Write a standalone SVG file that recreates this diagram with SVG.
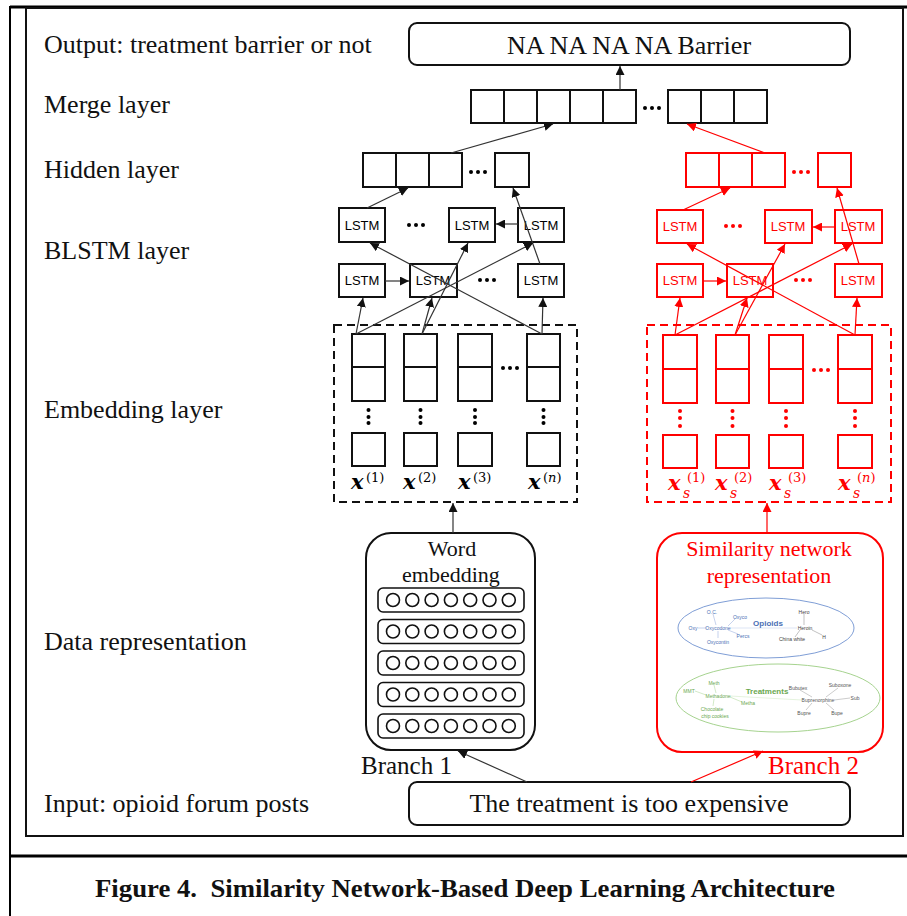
<svg xmlns="http://www.w3.org/2000/svg" width="907" height="916" viewBox="0 0 907 916">
<style>
.lbl{font-family:"Liberation Serif","Times New Roman",serif;font-size:26px;fill:#111}
.ctr{text-anchor:middle}
.red{fill:#f00}
.bx{fill:#fff;stroke:#111;stroke-width:2}
.rbx{fill:#fff;stroke:#f00;stroke-width:2}
.lstm{font-family:"Liberation Sans",Arial,sans-serif;font-size:13px;text-anchor:middle}
.ln{stroke:#333;stroke-width:1.2;fill:none}
.rln{stroke:#f00;stroke-width:1.2;fill:none}
.dash{fill:none;stroke:#111;stroke-width:2;stroke-dasharray:8 5}
.rdash{fill:none;stroke:#f00;stroke-width:2;stroke-dasharray:8 5}
.mx{font-family:"DejaVu Serif","Liberation Serif",serif;font-size:21px;font-weight:bold;font-style:italic}
.sup{font-family:"DejaVu Serif","Liberation Serif",serif;font-size:13px}
.sub{font-family:"DejaVu Serif","Liberation Serif",serif;font-size:14px;font-style:italic}
.t5{font-family:"Liberation Sans",Arial,sans-serif;font-size:5px;text-anchor:middle}
.gl{stroke-width:0.6;fill:none}
</style>
<defs>
<marker id="ab" viewBox="0 0 10 10" refX="10" refY="5" markerWidth="9" markerHeight="9" markerUnits="userSpaceOnUse" orient="auto"><path d="M0,0 L10,5 L0,10 z" fill="#111"/></marker>
<marker id="ar" viewBox="0 0 10 10" refX="10" refY="5" markerWidth="9" markerHeight="9" markerUnits="userSpaceOnUse" orient="auto"><path d="M0,0 L10,5 L0,10 z" fill="#f00"/></marker>
</defs>
<rect width="907" height="916" fill="#fff"/>
<g id="frame">
<line x1="10" y1="7" x2="907" y2="7" stroke="#000" stroke-width="3"/>
<line x1="10" y1="6" x2="10" y2="916" stroke="#000" stroke-width="2"/>
<rect x="26" y="8" width="877" height="828" fill="none" stroke="#111" stroke-width="2"/>
<line x1="10" y1="856" x2="907" y2="856" stroke="#000" stroke-width="3"/>
<text class="lbl" x="95" y="897" textLength="740" lengthAdjust="spacingAndGlyphs" style="font-weight:bold;font-size:26px" xml:space="preserve">Figure 4.  Similarity Network-Based Deep Learning Architecture</text>
</g>
<g id="labels">
<text class="lbl" x="44" y="53">Output: treatment barrier or not</text>
<text class="lbl" x="44" y="113">Merge layer</text>
<text class="lbl" x="44" y="178">Hidden layer</text>
<text class="lbl" x="44" y="259">BLSTM layer</text>
<text class="lbl" x="44" y="418">Embedding layer</text>
<text class="lbl" x="44" y="650">Data representation</text>
<text class="lbl" x="44" y="812">Input: opioid forum posts</text>
</g>
<g id="output">
<rect x="409" y="23" width="441" height="42" rx="8" class="bx"/>
<text class="lbl ctr" x="629" y="54">NA NA NA NA Barrier</text>
</g>
<g id="merge">
<rect x="471" y="90" width="33" height="33" class="bx"/>
<rect x="504" y="90" width="33" height="33" class="bx"/>
<rect x="537" y="90" width="33" height="33" class="bx"/>
<rect x="570" y="90" width="33" height="33" class="bx"/>
<rect x="603" y="90" width="33" height="33" class="bx"/>
<circle cx="645" cy="108" r="2"/><circle cx="652" cy="108" r="2"/><circle cx="659" cy="108" r="2"/>
<rect x="668" y="90" width="33" height="33" class="bx"/>
<rect x="701" y="90" width="33" height="33" class="bx"/>
<rect x="734" y="90" width="33" height="33" class="bx"/>
</g>
<g id="hidden-left">
<rect x="363" y="153" width="33" height="34" class="bx"/>
<rect x="396" y="153" width="33" height="34" class="bx"/>
<rect x="429" y="153" width="33" height="34" class="bx"/>
<circle cx="471" cy="172" r="2"/><circle cx="478" cy="172" r="2"/><circle cx="485" cy="172" r="2"/>
<rect x="495" y="153" width="34" height="34" class="bx"/>
</g>
<g id="hidden-right">
<rect x="686" y="153" width="33" height="34" class="rbx"/>
<rect x="719" y="153" width="33" height="34" class="rbx"/>
<rect x="752" y="153" width="33" height="34" class="rbx"/>
<g fill="#f00"><circle cx="794" cy="172" r="2"/><circle cx="801" cy="172" r="2"/><circle cx="808" cy="172" r="2"/></g>
<rect x="818" y="153" width="33" height="34" class="rbx"/>
</g>
<g id="blstm-left">
<rect x="339" y="208" width="46" height="34" class="bx"/><text class="lstm" x="362" y="230">LSTM</text>
<circle cx="409" cy="225" r="2"/><circle cx="416" cy="225" r="2"/><circle cx="423" cy="225" r="2"/>
<rect x="449" y="208" width="46" height="34" class="bx"/><text class="lstm" x="472" y="230">LSTM</text>
<rect x="518" y="208" width="46" height="34" class="bx"/><text class="lstm" x="541" y="230">LSTM</text>
<rect x="339" y="264" width="46" height="33" class="bx"/><text class="lstm" x="362" y="285">LSTM</text>
<rect x="410" y="264" width="47" height="33" class="bx"/><text class="lstm" x="433" y="285">LSTM</text>
<circle cx="480" cy="280" r="2"/><circle cx="487" cy="280" r="2"/><circle cx="494" cy="280" r="2"/>
<rect x="518" y="264" width="46" height="33" class="bx"/><text class="lstm" x="541" y="285">LSTM</text>
</g>
<g id="blstm-right">
<rect x="657" y="210" width="46" height="33" class="rbx"/><text class="lstm red" x="680" y="231">LSTM</text>
<g fill="#f00"><circle cx="726" cy="226" r="2"/><circle cx="733" cy="226" r="2"/><circle cx="740" cy="226" r="2"/></g>
<rect x="765" y="210" width="47" height="33" class="rbx"/><text class="lstm red" x="788" y="231">LSTM</text>
<rect x="835" y="210" width="47" height="33" class="rbx"/><text class="lstm red" x="858" y="231">LSTM</text>
<rect x="657" y="264" width="46" height="33" class="rbx"/><text class="lstm red" x="680" y="285">LSTM</text>
<rect x="727" y="264" width="46" height="33" class="rbx"/><text class="lstm red" x="750" y="285">LSTM</text>
<g fill="#f00"><circle cx="796" cy="280" r="2"/><circle cx="803" cy="280" r="2"/><circle cx="810" cy="280" r="2"/></g>
<rect x="835" y="264" width="47" height="33" class="rbx"/><text class="lstm red" x="858" y="285">LSTM</text>
</g>
<g id="embedding-left">
<rect x="334" y="325" width="243" height="177" class="dash"/>
<rect x="352" y="334" width="33" height="33" class="bx"/><rect x="352" y="367" width="33" height="34" class="bx"/>
<rect x="404" y="334" width="33" height="33" class="bx"/><rect x="404" y="367" width="33" height="34" class="bx"/>
<rect x="458" y="334" width="34" height="33" class="bx"/><rect x="458" y="367" width="34" height="34" class="bx"/>
<rect x="527" y="334" width="33" height="33" class="bx"/><rect x="527" y="367" width="33" height="34" class="bx"/>
<circle cx="503" cy="368" r="2"/><circle cx="510" cy="368" r="2"/><circle cx="517" cy="368" r="2"/>
<g><circle cx="368.5" cy="410" r="2"/><circle cx="368.5" cy="417" r="2"/><circle cx="368.5" cy="423" r="2"/>
<circle cx="420.5" cy="410" r="2"/><circle cx="420.5" cy="417" r="2"/><circle cx="420.5" cy="423" r="2"/>
<circle cx="475" cy="410" r="2"/><circle cx="475" cy="417" r="2"/><circle cx="475" cy="423" r="2"/>
<circle cx="543.5" cy="410" r="2"/><circle cx="543.5" cy="417" r="2"/><circle cx="543.5" cy="423" r="2"/></g>
<rect x="352" y="433" width="33" height="33" class="bx"/>
<rect x="404" y="433" width="33" height="33" class="bx"/>
<rect x="458" y="433" width="34" height="33" class="bx"/>
<rect x="527" y="433" width="33" height="33" class="bx"/>
<text class="mx" x="351" y="489">x</text><text class="sup" x="366" y="482">(1)</text>
<text class="mx" x="403" y="489">x</text><text class="sup" x="418" y="482">(2)</text>
<text class="mx" x="458" y="489">x</text><text class="sup" x="473" y="482">(3)</text>
<text class="mx" x="528" y="489">x</text><text class="sup" x="543" y="482">(<tspan font-style="italic">n</tspan>)</text>
</g>
<g id="embedding-right">
<rect x="647" y="325" width="244" height="177" class="rdash"/>
<rect x="663" y="335" width="34" height="34" class="rbx"/><rect x="663" y="369" width="34" height="34" class="rbx"/>
<rect x="716" y="335" width="33" height="34" class="rbx"/><rect x="716" y="369" width="33" height="34" class="rbx"/>
<rect x="769" y="335" width="34" height="34" class="rbx"/><rect x="769" y="369" width="34" height="34" class="rbx"/>
<rect x="838" y="335" width="34" height="34" class="rbx"/><rect x="838" y="369" width="34" height="34" class="rbx"/>
<g fill="#f00"><circle cx="814" cy="370" r="2"/><circle cx="821" cy="370" r="2"/><circle cx="828" cy="370" r="2"/>
<circle cx="680" cy="411" r="2"/><circle cx="680" cy="418" r="2"/><circle cx="680" cy="426" r="2"/>
<circle cx="732.5" cy="411" r="2"/><circle cx="732.5" cy="418" r="2"/><circle cx="732.5" cy="426" r="2"/>
<circle cx="786" cy="411" r="2"/><circle cx="786" cy="418" r="2"/><circle cx="786" cy="426" r="2"/>
<circle cx="855" cy="411" r="2"/><circle cx="855" cy="418" r="2"/><circle cx="855" cy="426" r="2"/></g>
<rect x="663" y="435" width="34" height="33" class="rbx"/>
<rect x="716" y="435" width="33" height="33" class="rbx"/>
<rect x="769" y="435" width="34" height="33" class="rbx"/>
<rect x="838" y="435" width="34" height="33" class="rbx"/>
<g fill="#f00">
<text class="mx" x="668" y="490">x</text><text class="sub" x="683" y="498">s</text><text class="sup" x="687" y="482">(1)</text>
<text class="mx" x="715" y="490">x</text><text class="sub" x="730" y="498">s</text><text class="sup" x="734" y="482">(2)</text>
<text class="mx" x="769" y="490">x</text><text class="sub" x="784" y="498">s</text><text class="sup" x="788" y="482">(3)</text>
<text class="mx" x="838" y="490">x</text><text class="sub" x="853" y="498">s</text><text class="sup" x="857" y="482">(<tspan font-style="italic">n</tspan>)</text>
</g>
</g>
<g id="word-embedding">
<rect x="366" y="533" width="169" height="217" rx="25" class="bx"/>
<text class="lbl ctr" x="452" y="556" style="font-size:22px">Word</text>
<text class="lbl ctr" x="451" y="582" style="font-size:22px">embedding</text>
<g fill="#fff" stroke="#111" stroke-width="1.6">
<rect x="378" y="588" width="146" height="24" rx="5"/>
<rect x="378" y="619.5" width="146" height="24" rx="5"/>
<rect x="378" y="651" width="146" height="24" rx="5"/>
<rect x="378" y="682.5" width="146" height="24" rx="5"/>
<rect x="378" y="714" width="146" height="24" rx="5"/>
</g>
<g fill="none" stroke="#111" stroke-width="1.6">
<circle cx="393" cy="600" r="6.5"/><circle cx="412.3" cy="600" r="6.5"/><circle cx="431.6" cy="600" r="6.5"/><circle cx="450.9" cy="600" r="6.5"/><circle cx="470.2" cy="600" r="6.5"/><circle cx="489.5" cy="600" r="6.5"/><circle cx="508.8" cy="600" r="6.5"/>
<circle cx="393" cy="631.5" r="6.5"/><circle cx="412.3" cy="631.5" r="6.5"/><circle cx="431.6" cy="631.5" r="6.5"/><circle cx="450.9" cy="631.5" r="6.5"/><circle cx="470.2" cy="631.5" r="6.5"/><circle cx="489.5" cy="631.5" r="6.5"/><circle cx="508.8" cy="631.5" r="6.5"/>
<circle cx="393" cy="663" r="6.5"/><circle cx="412.3" cy="663" r="6.5"/><circle cx="431.6" cy="663" r="6.5"/><circle cx="450.9" cy="663" r="6.5"/><circle cx="470.2" cy="663" r="6.5"/><circle cx="489.5" cy="663" r="6.5"/><circle cx="508.8" cy="663" r="6.5"/>
<circle cx="393" cy="694.5" r="6.5"/><circle cx="412.3" cy="694.5" r="6.5"/><circle cx="431.6" cy="694.5" r="6.5"/><circle cx="450.9" cy="694.5" r="6.5"/><circle cx="470.2" cy="694.5" r="6.5"/><circle cx="489.5" cy="694.5" r="6.5"/><circle cx="508.8" cy="694.5" r="6.5"/>
<circle cx="393" cy="726" r="6.5"/><circle cx="412.3" cy="726" r="6.5"/><circle cx="431.6" cy="726" r="6.5"/><circle cx="450.9" cy="726" r="6.5"/><circle cx="470.2" cy="726" r="6.5"/><circle cx="489.5" cy="726" r="6.5"/><circle cx="508.8" cy="726" r="6.5"/>
</g>
<text class="lbl" x="361" y="774" style="font-size:25px">Branch 1</text>
</g>
<g id="similarity-network">
<rect x="657" y="533" width="226" height="219" rx="25" class="rbx"/>
<text class="lbl ctr red" x="769" y="556" style="font-size:22px">Similarity network</text>
<text class="lbl ctr red" x="769" y="583" style="font-size:22px">representation</text>
<ellipse cx="766" cy="628" rx="88" ry="30" fill="none" stroke="#7f9ed6" stroke-width="1"/>
<ellipse cx="778" cy="698" rx="102" ry="34" fill="none" stroke="#a6d38f" stroke-width="1"/>
<g class="gl" stroke="#9fb4e0">
<line x1="698" y1="628" x2="707" y2="628"/><line x1="713" y1="614" x2="716" y2="625"/><line x1="728" y1="626" x2="735" y2="619"/>
<line x1="728" y1="630" x2="738" y2="634"/><line x1="718" y1="631" x2="718" y2="638"/><line x1="730" y1="628" x2="797" y2="628" stroke="#c8d4ee"/>
</g>
<g class="gl" stroke="#999">
<line x1="804" y1="614" x2="804" y2="625"/><line x1="800" y1="630" x2="795" y2="637"/><line x1="812" y1="630" x2="822" y2="635"/>
</g>
<g fill="#4a6fb5">
<text class="t5" x="712" y="614">O.C.</text><text class="t5" x="740" y="619">Oxyco</text><text class="t5" x="693" y="630">Oxy</text>
<text class="t5" x="718" y="630">Oxycodone</text><text class="t5" x="743" y="638">Percs</text><text class="t5" x="718" y="644">Oxycontin</text>
<text class="t5" x="768" y="626" style="font-size:8px;font-weight:bold">Opioids</text>
</g>
<g fill="#444">
<text class="t5" x="804" y="614">Hero</text><text class="t5" x="805" y="630">Heroin</text><text class="t5" x="792" y="641">China white</text><text class="t5" x="824" y="639">H</text>
</g>
<g class="gl" stroke="#b5dca3">
<line x1="714" y1="685" x2="716" y2="693"/><line x1="695" y1="691" x2="706" y2="695"/><line x1="730" y1="697" x2="742" y2="702"/>
<line x1="714" y1="699" x2="713" y2="706"/><line x1="730" y1="696" x2="802" y2="700" stroke="#d3ebc8"/>
</g>
<g class="gl" stroke="#aaa">
<line x1="800" y1="690" x2="812" y2="697"/><line x1="838" y1="688" x2="826" y2="697"/><line x1="834" y1="700" x2="850" y2="698"/>
<line x1="812" y1="703" x2="806" y2="710"/><line x1="826" y1="703" x2="834" y2="710"/>
</g>
<g fill="#6aa84f">
<text class="t5" x="714" y="685">Meth</text><text class="t5" x="689" y="693">MMT</text><text class="t5" x="718" y="698">Methadone</text>
<text class="t5" x="748" y="705">Metha</text><text class="t5" x="712" y="711">Chocolate</text><text class="t5" x="715" y="718">chip cookies</text>
<text class="t5" x="767" y="694" style="font-size:8px;font-weight:bold">Treatments</text>
</g>
<g fill="#555">
<text class="t5" x="798" y="690">Bubutex</text><text class="t5" x="840" y="687">Suboxone</text><text class="t5" x="818" y="702">Buprenorphine</text>
<text class="t5" x="855" y="700">Sub</text><text class="t5" x="804" y="715">Bupre</text><text class="t5" x="837" y="715">Bupe</text>
</g>
<text class="lbl red" x="768" y="774" style="font-size:25px">Branch 2</text>
</g>
<g id="input">
<rect x="409" y="782" width="441" height="43" rx="8" class="bx"/>
<text class="lbl ctr" x="629" y="812">The treatment is too expensive</text>
</g>
<g id="connectors">
<line class="ln" x1="620" y1="90" x2="620" y2="66" marker-end="url(#ab)"/>
<line class="ln" x1="451" y1="153" x2="553" y2="124" marker-end="url(#ab)"/>
<line class="rln" x1="765" y1="153" x2="687" y2="124" marker-end="url(#ar)"/>
<line class="ln" x1="367" y1="208" x2="408" y2="188" marker-end="url(#ab)"/>
<line class="ln" x1="540" y1="264" x2="513" y2="188" marker-end="url(#ab)"/>
<line class="ln" x1="518" y1="224" x2="496" y2="224" marker-end="url(#ab)"/>
<line class="ln" x1="385" y1="281" x2="409" y2="281" marker-end="url(#ab)"/>
<line class="ln" x1="356" y1="334" x2="363" y2="298" marker-end="url(#ab)"/>
<line class="ln" x1="356" y1="334" x2="533" y2="243" marker-end="url(#ab)"/>
<line class="ln" x1="422" y1="334" x2="432" y2="298" marker-end="url(#ab)"/>
<line class="ln" x1="422" y1="334" x2="468" y2="243" marker-end="url(#ab)"/>
<line class="ln" x1="542" y1="334" x2="543" y2="298" marker-end="url(#ab)"/>
<line class="ln" x1="542" y1="334" x2="370" y2="243" marker-end="url(#ab)"/>
<line class="rln" x1="683" y1="210" x2="730" y2="188" marker-end="url(#ar)"/>
<line class="rln" x1="859" y1="264" x2="837" y2="188" marker-end="url(#ar)"/>
<line class="rln" x1="835" y1="227" x2="813" y2="227" marker-end="url(#ar)"/>
<line class="rln" x1="703" y1="281" x2="726" y2="281" marker-end="url(#ar)"/>
<line class="rln" x1="675" y1="335" x2="680" y2="298" marker-end="url(#ar)"/>
<line class="rln" x1="675" y1="335" x2="852" y2="244" marker-end="url(#ar)"/>
<line class="rln" x1="735" y1="335" x2="747" y2="298" marker-end="url(#ar)"/>
<line class="rln" x1="735" y1="335" x2="785" y2="244" marker-end="url(#ar)"/>
<line class="rln" x1="855" y1="335" x2="857" y2="298" marker-end="url(#ar)"/>
<line class="rln" x1="855" y1="335" x2="687" y2="244" marker-end="url(#ar)"/>
<line class="ln" x1="453" y1="533" x2="453" y2="503" marker-end="url(#ab)"/>
<line class="rln" x1="767" y1="533" x2="767" y2="503" marker-end="url(#ar)"/>
<line class="ln" x1="527" y1="782" x2="458" y2="751" marker-end="url(#ab)"/>
<line class="rln" x1="691" y1="782" x2="763" y2="751" marker-end="url(#ar)"/>
</g>
</svg>
